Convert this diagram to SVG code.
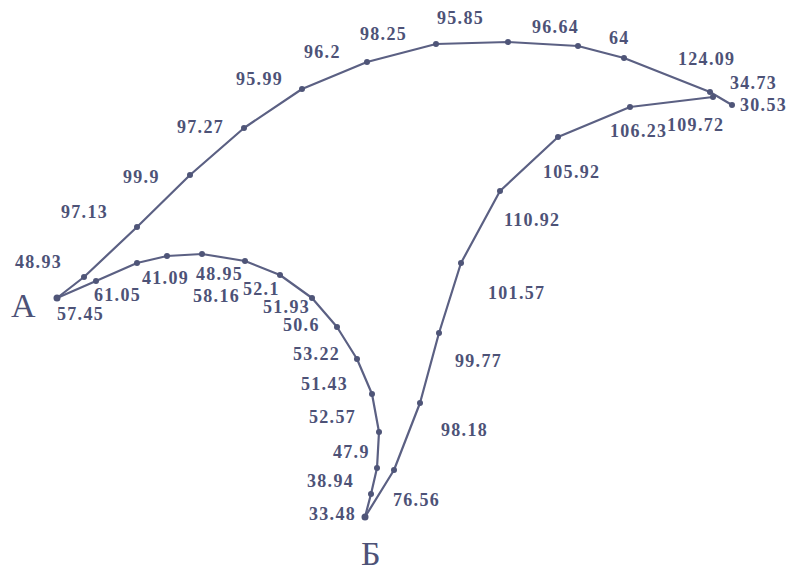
<svg xmlns="http://www.w3.org/2000/svg" width="800" height="573" viewBox="0 0 800 573">
<style>
.ln{fill:none;stroke:#5b6083;stroke-width:2.2;stroke-linejoin:round;stroke-linecap:round}
.pt{fill:#4f5578}
.v{font-family:"Liberation Serif","Times New Roman",serif;font-weight:bold;font-size:18px;letter-spacing:1.3px;fill:#4d5277}
.big{font-family:"Liberation Serif","Times New Roman",serif;font-size:34px;fill:#4d5277}
</style>
<rect width="800" height="573" fill="#ffffff"/>
<g id="connectors">
<polyline class="ln" points="57,298 84,277 137,227 190,175 244,128 302,89 367,62 436,44 508,42 578,46 624,58 710,92 732,105"/>
<polyline class="ln" points="365,517 394,470 420,403 439,333 461,263 500,191 558,137 630,107 713,97"/>
<polyline class="ln" points="57,298 96,281 137,263 167,256 202,254 245,261 280,275 312,298 337,327 357,359 372,394 379,432 377,468 371,494 365,517"/>
</g>
<g id="points">
<g class="pt">
<circle cx="84" cy="277" r="3"/><circle cx="137" cy="227" r="3"/><circle cx="190" cy="175" r="3"/><circle cx="244" cy="128" r="3"/><circle cx="302" cy="89" r="3"/><circle cx="367" cy="62" r="3"/><circle cx="436" cy="44" r="3"/><circle cx="508" cy="42" r="3"/><circle cx="578" cy="46" r="3"/><circle cx="624" cy="58" r="3"/><circle cx="710" cy="92" r="3"/><circle cx="732" cy="105" r="3"/>
<circle cx="394" cy="470" r="3"/><circle cx="420" cy="403" r="3"/><circle cx="439" cy="333" r="3"/><circle cx="461" cy="263" r="3"/><circle cx="500" cy="191" r="3"/><circle cx="558" cy="137" r="3"/><circle cx="630" cy="107" r="3"/><circle cx="713" cy="97" r="3"/>
<circle cx="96" cy="281" r="3"/><circle cx="137" cy="263" r="3"/><circle cx="167" cy="256" r="3"/><circle cx="202" cy="254" r="3"/><circle cx="245" cy="261" r="3"/><circle cx="280" cy="275" r="3"/><circle cx="312" cy="298" r="3"/><circle cx="337" cy="327" r="3"/><circle cx="357" cy="359" r="3"/><circle cx="372" cy="394" r="3"/><circle cx="379" cy="432" r="3"/><circle cx="377" cy="468" r="3"/><circle cx="371" cy="494" r="3"/>
</g>
</g>
<g id="node-A">
<circle class="pt" cx="57" cy="298" r="3.5"/>
<text class="big" x="11" y="317">А</text>
</g>
<g id="node-B">
<circle class="pt" cx="365" cy="517" r="3.5"/>
<text class="big" x="361" y="565">Б</text>
</g>
<g id="labels" class="v">
<text x="15" y="268">48.93</text>
<text x="61" y="218">97.13</text>
<text x="123" y="183">99.9</text>
<text x="177" y="133">97.27</text>
<text x="236" y="85">95.99</text>
<text x="304" y="58">96.2</text>
<text x="360" y="40">98.25</text>
<text x="437" y="24">95.85</text>
<text x="532" y="33">96.64</text>
<text x="609" y="44">64</text>
<text x="678" y="65">124.09</text>
<text x="730" y="89">34.73</text>
<text x="740" y="111">30.53</text>
<text x="610" y="137">106.23</text>
<text x="667" y="131">109.72</text>
<text x="543" y="178">105.92</text>
<text x="504" y="226">110.92</text>
<text x="488" y="299">101.57</text>
<text x="455" y="367">99.77</text>
<text x="441" y="436">98.18</text>
<text x="393" y="506">76.56</text>
<text x="309" y="520">33.48</text>
<text x="307" y="487">38.94</text>
<text x="333" y="458">47.9</text>
<text x="309" y="423">52.57</text>
<text x="301" y="390">51.43</text>
<text x="293" y="360">53.22</text>
<text x="283" y="331">50.6</text>
<text x="263" y="313">51.93</text>
<text x="243" y="295">52.1</text>
<text x="193" y="302">58.16</text>
<text x="196" y="280">48.95</text>
<text x="142" y="284">41.09</text>
<text x="94" y="301">61.05</text>
<text x="57" y="320">57.45</text>
</g>
</svg>
